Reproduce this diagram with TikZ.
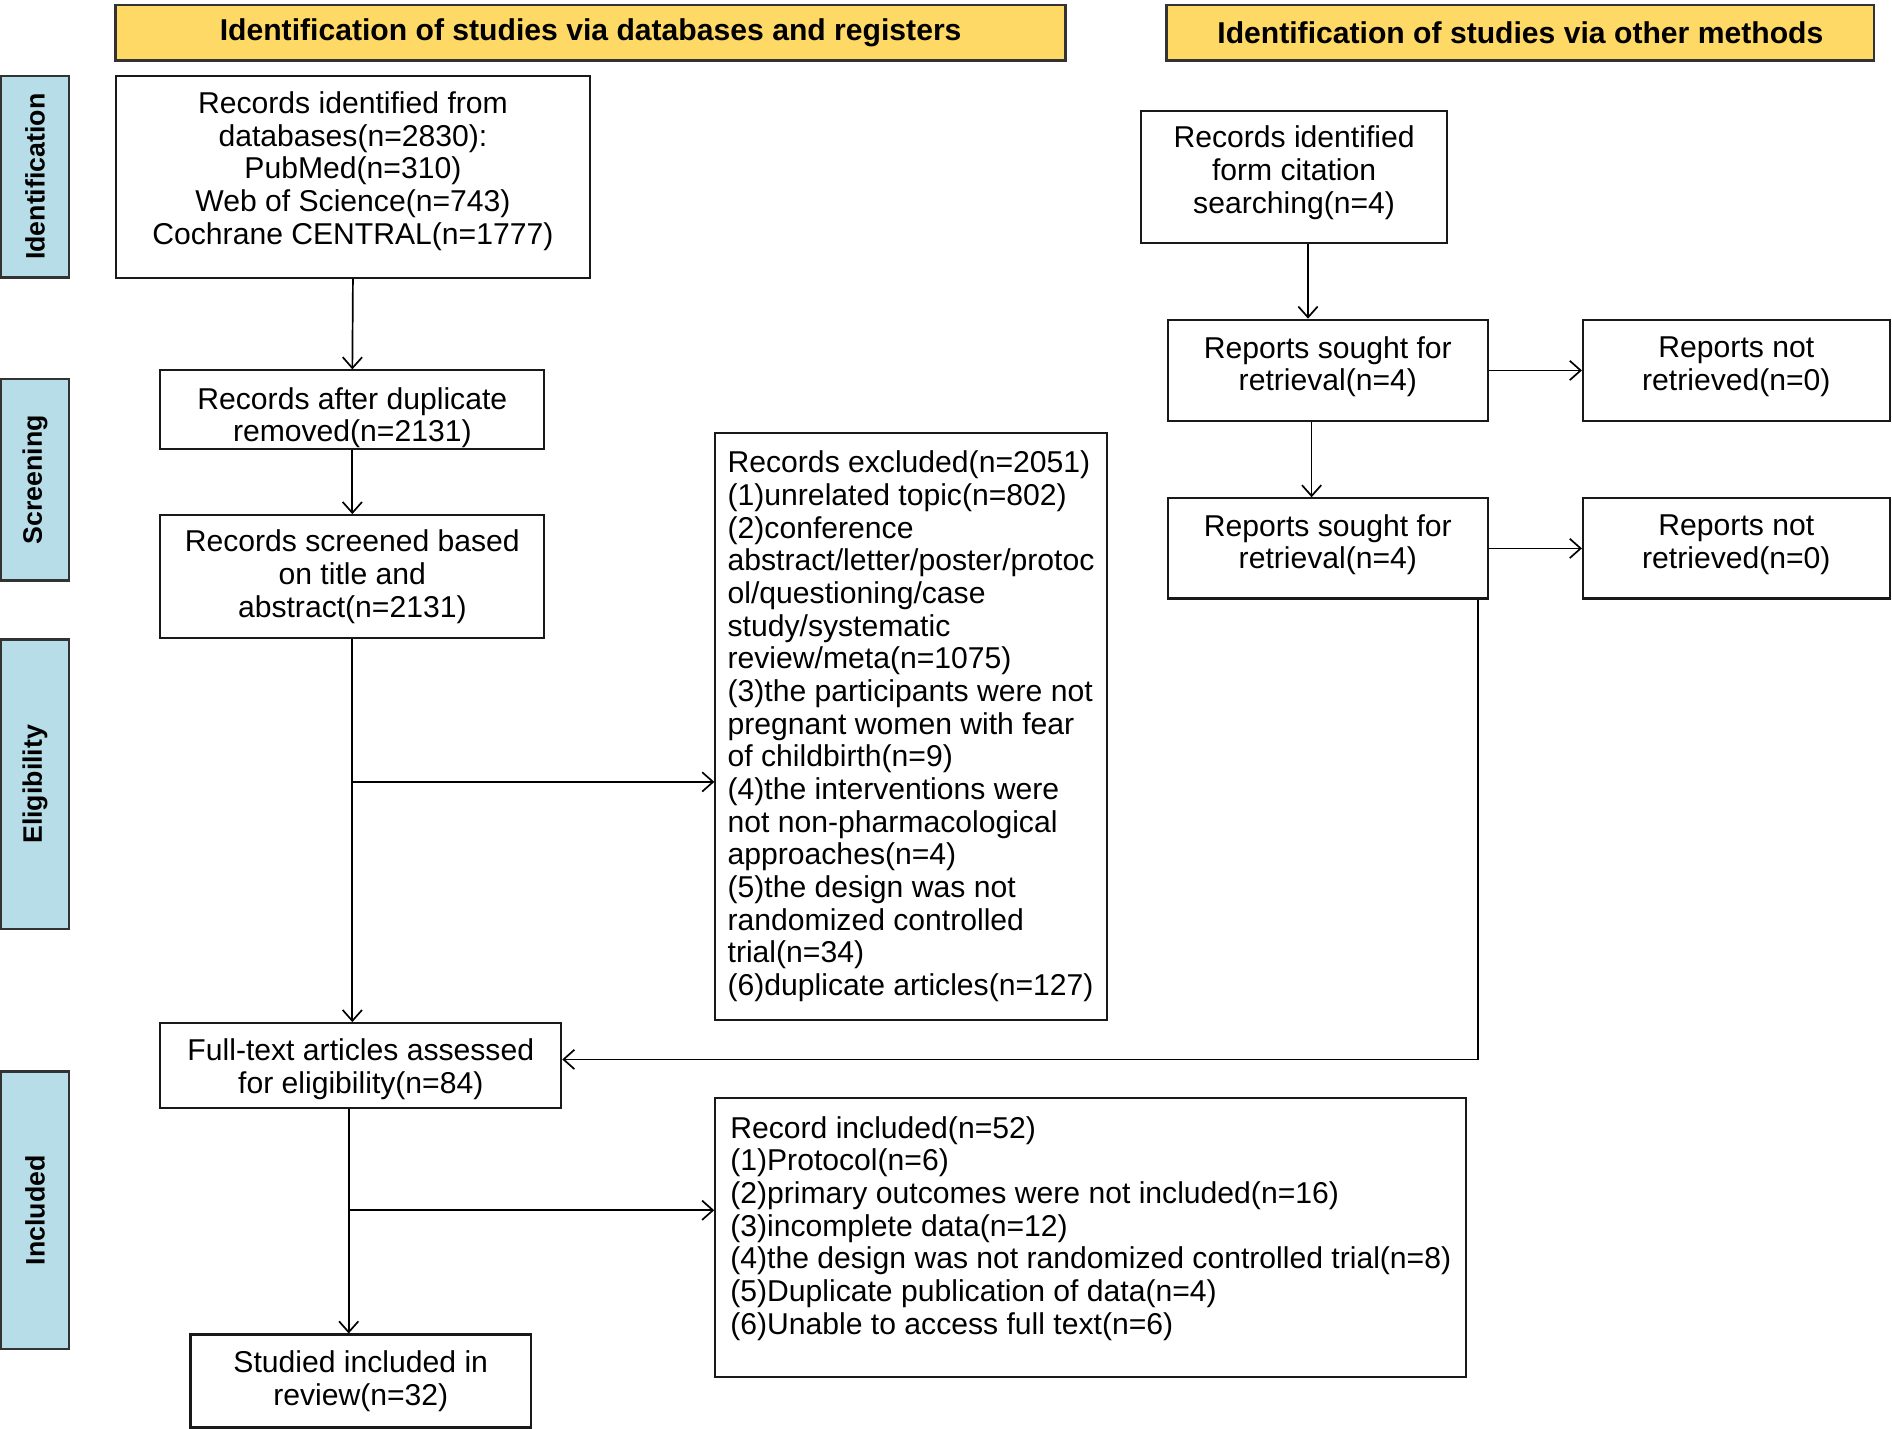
\documentclass[tikz,border=0pt]{standalone}
\usepackage{fontspec}
\setmainfont{Liberation Sans}
\usetikzlibrary{arrows.meta}
\definecolor{headyellow}{HTML}{FFD966}
\definecolor{sideblue}{HTML}{B7DEE8}
\tikzset{
  box/.style={draw=black!90, line width=0.5pt, align=center, inner sep=0pt,
    font=\fontsize{7.1}{7.7}\selectfont},
  listbox/.style={box, align=left},
  headbox/.style={draw=black!80, fill=headyellow, line width=0.6pt, inner sep=0pt,
    font=\fontsize{7.1}{7.7}\selectfont\bfseries},
  sidebox/.style={draw=black!80, fill=sideblue, line width=0.6pt, inner sep=0pt,
    minimum width=0.56cm, font=\fontsize{6.3}{7}\selectfont\bfseries},
  arr/.style={-{Straight Barb[length=0.09cm,width=0.16cm]}, line width=0.4pt}
}
\begin{document}
\begin{tikzpicture}[x=0.01cm, y=-0.01cm]
    \useasboundingbox (0,0) rectangle (1568,1184);

    % headers
    \node[headbox, minimum width=7.87cm, minimum height=0.46cm] (head1) at (489.5, 27)
        {Identification of studies via databases and registers};
    \node[headbox, minimum width=5.86cm, minimum height=0.46cm] (head2) at (1260, 27)
        {Identification of studies via other methods};

    % stages
    \node[sidebox, minimum height=1.67cm] (ident) at (29, 146.5) {\rotatebox{90}{Identification}};
    \node[sidebox, minimum height=1.67cm] (screen) at (29, 397.5) {\rotatebox{90}{Screening}};
    \node[sidebox, minimum height=2.40cm] (elig) at (29, 650) {\rotatebox{90}{Eligibility}};
    \node[sidebox, minimum height=2.30cm] (incl) at (29, 1003) {\rotatebox{90}{Included}};

    % databases and registers
    \node[box, minimum width=3.93cm, minimum height=1.67cm] (found) at (292.5, 146.5)
        {Records identified from\\databases(n=2830):\\PubMed(n=310)\\Web of Science(n=743)\\Cochrane CENTRAL(n=1777)\\[-3.5pt]\mbox{}};
    \node[box, minimum width=3.18cm, minimum height=0.65cm] (dedup) at (292, 339.5)
        {\rule{0pt}{9pt}Records after duplicate\\removed(n=2131)};
    \node[box, minimum width=3.18cm, minimum height=1.02cm] (screened) at (292, 478)
        {Records screened based\\on title and\\abstract(n=2131)};
    \node[listbox, minimum width=3.24cm, minimum height=4.86cm] (excluded) at (755, 602)
        {Records excluded(n=2051)\\
         (1)unrelated topic(n=802)\\
         (2)conference\\
         abstract/letter/poster/protoc\\
         ol/questioning/case\\
         study/systematic\\
         review/meta(n=1075)\\
         (3)the participants were not\\
         pregnant women with fear\\
         of childbirth(n=9)\\
         (4)the interventions were\\
         not non-pharmacological\\
         approaches(n=4)\\
         (5)the design was not\\
         randomized controlled\\
         trial(n=34)\\
         (6)duplicate articles(n=127)};
    \node[box, minimum width=3.32cm, minimum height=0.70cm] (fulltext) at (299, 883)
        {\rule{0pt}{7pt}Full-text articles assessed\\for eligibility(n=84)};
    \node[listbox, minimum width=6.22cm, minimum height=2.31cm] (record) at (904, 1025.5)
        {Record included(n=52)\\
         (1)Protocol(n=6)\\
         (2)primary outcomes were not included(n=16)\\
         (3)incomplete data(n=12)\\
         (4)the design was not randomized controlled trial(n=8)\\
         (5)Duplicate publication of data(n=4)\\
         (6)Unable to access full text(n=6)\\[-2pt]\mbox{}};
    \node[box, minimum width=2.82cm, minimum height=0.77cm] (review) at (299, 1144.5)
        {Studied included in\\review(n=32)};

    % other methods
    \node[box, minimum width=2.53cm, minimum height=1.09cm] (citation) at (1072.5, 146.5)
        {Records identified\\form citation\\searching(n=4)\\[-4.3pt]\mbox{}};
    \node[box, minimum width=2.65cm, minimum height=0.84cm] (sought1) at (1100.5, 307)
        {Reports sought for\\retrieval(n=4)\\[-4.5pt]\mbox{}};
    \node[box, minimum width=2.54cm, minimum height=0.84cm] (notret1) at (1439, 307)
        {Reports not\\retrieved(n=0)\\[-4.5pt]\mbox{}};
    \node[box, minimum width=2.65cm, minimum height=0.83cm] (sought2) at (1100.5, 454.5)
        {Reports sought for\\retrieval(n=4)\\[-4.5pt]\mbox{}};
    \node[box, minimum width=2.54cm, minimum height=0.83cm] (notret2) at (1439, 454.5)
        {Reports not\\retrieved(n=0)\\[-4.5pt]\mbox{}};

    % connectors
    \draw[arr] (found.south) -- (dedup.north);
    \draw[arr] (dedup.south) -- (screened.north);
    \draw[arr] (screened.south) -- (screened.south |- fulltext.north);
    \coordinate (split1) at (292, 648);
    \draw[arr] (split1) -- (split1 -| excluded.west);
    \coordinate (down1) at ([xshift=-0.1cm]fulltext.south);
    \draw[arr] (down1) -- (down1 |- review.north);
    \coordinate (split2) at (289, 1003);
    \draw[arr] (split2) -- (split2 -| record.west);

    \coordinate (down2) at ([xshift=0.115cm]citation.south);
    \draw[arr] (down2) -- (down2 |- sought1.north);
    \coordinate (down3) at ([xshift=-0.135cm]sought1.south);
    \draw[arr] (down3) -- (down3 |- sought2.north);
    \draw[arr] (sought1.east) -- (notret1.west);
    \draw[arr] (sought2.east) -- (notret2.west);
    \coordinate (back) at ([xshift=-0.09cm]sought2.south east);
    \draw[arr] (back) |- ([yshift=0.05cm]fulltext.east);
\end{tikzpicture}
\end{document}
